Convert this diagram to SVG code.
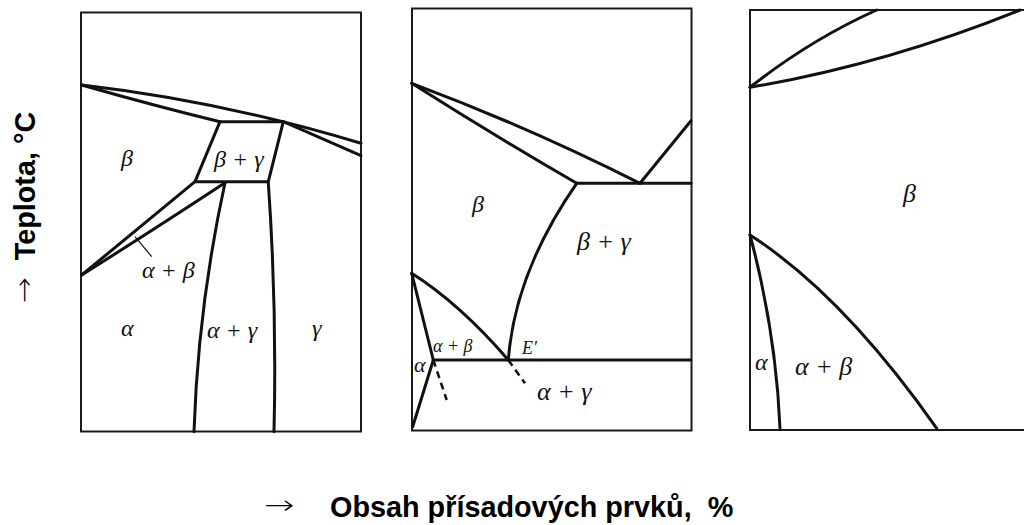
<svg xmlns="http://www.w3.org/2000/svg" width="1024" height="525" viewBox="0 0 1024 525">
<style>
.frame{fill:none;stroke:#1a1a1a;stroke-width:2}
.ln{fill:none;stroke:#111;stroke-width:3;stroke-linejoin:round;stroke-linecap:round}
.thin{fill:none;stroke:#111;stroke-width:1.2}
.dash{fill:none;stroke:#111;stroke-width:2.5;stroke-dasharray:7 5}
.lb{font-family:"Liberation Serif","Times New Roman",serif;font-style:italic;font-size:24px;fill:#111}
.sm{font-size:18px}
.ax{font-family:"Liberation Sans",Arial,sans-serif;font-weight:bold;font-size:28.8px;fill:#000}
.ar{font-family:"DejaVu Sans",sans-serif;font-weight:200;font-size:26px;fill:#000}
</style>
<rect width="1024" height="525" fill="#fff"/>

<g id="panel1">
<rect class="frame" x="81" y="12.5" width="280" height="419"/>
<g id="panel1-lines">
<path class="ln" d="M81.7,85 Q221,101 361,143.3"/>
<path class="ln" d="M81.7,85 Q155,106 220,121.7"/>
<path class="ln" d="M220,121.7 L283.3,121.7 L268.3,181.7 L195,181.7 Z"/>
<path class="ln" d="M283.3,121.7 L361,155.7"/>
<path class="ln" d="M195,181.7 L81.7,275"/>
<path class="ln" d="M225,182.7 Q150,232 81.7,275"/>
<path class="thin" d="M135,236.7 L151.7,256.7"/>
<path class="ln" d="M225,182.7 Q198,307 194,431.7"/>
<path class="ln" d="M268.3,182.7 Q277,307 274,431.7"/>
</g>
<text class="lb" x="121" y="166">β</text>
<text class="lb" x="214" y="167">β + γ</text>
<text class="lb" x="142" y="278">α + β</text>
<text class="lb" x="121" y="336">α</text>
<text class="lb" x="207" y="338">α + γ</text>
<text class="lb" x="312" y="336">γ</text>
</g>

<g id="panel2">
<rect class="frame" x="412" y="8.5" width="279.5" height="422"/>
<g id="panel2-lines">
<path class="ln" d="M411.7,83.3 Q526,126 640,183.3"/>
<path class="ln" d="M411.7,83.3 Q490,133 576.7,183.3"/>
<path class="ln" d="M576.7,183.3 L691,183.3"/>
<path class="ln" d="M640,183.3 L691,120.7"/>
<path class="ln" d="M576.7,183.3 Q515,272 508.3,360"/>
<path class="ln" d="M411.7,273.3 Q460,304 508.3,360"/>
<path class="ln" d="M411.7,273.3 L433.3,360"/>
<path class="ln" d="M433.3,360 L691,360"/>
<path class="ln" d="M433.3,360 L412.7,426.7"/>
<path class="dash" d="M433.3,360 L446.7,400"/>
<path class="dash" d="M508.3,360 L525,383.3"/>
</g>
<text class="lb" x="472" y="212">β</text>
<text class="lb" x="577" y="250" style="font-size:26px">β + γ</text>
<text class="lb sm" x="433" y="352">α + β</text>
<text class="lb sm" x="522" y="354">E′</text>
<text class="lb" x="414" y="372" style="font-size:22px">α</text>
<text class="lb" x="537" y="400" style="font-size:26px">α + γ</text>
</g>

<g id="panel3">
<path class="frame" d="M1024,10 L750,10 L750,430 L1024,430"/>
<g id="panel3-lines">
<path class="ln" d="M750,87.3 Q810,40 876.7,10"/>
<path class="ln" d="M750,87.3 Q885,64.4 1020,10"/>
<path class="ln" d="M750,235 Q776,332 780,428.3"/>
<path class="ln" d="M750,235 Q843,295 936.7,428.3"/>
</g>
<text class="lb" x="903" y="202" style="font-size:26px">β</text>
<text class="lb" x="755" y="370">α</text>
<text class="lb" x="795" y="375" style="font-size:26px">α + β</text>
</g>

<g id="axis-y">
<text class="ax" transform="translate(35,186) rotate(-90)" text-anchor="middle">Teplota, °C</text>
<text class="ar" transform="translate(33,290) rotate(-90) scale(1.2,1)" text-anchor="middle">→</text>
</g>
<g id="axis-x">
<text class="ar" transform="translate(279.5,514) scale(1.4,1)" text-anchor="middle">→</text>
<text class="ax" x="330" y="517" xml:space="preserve">Obsah přísadových prvků,  %</text>
</g>
</svg>
